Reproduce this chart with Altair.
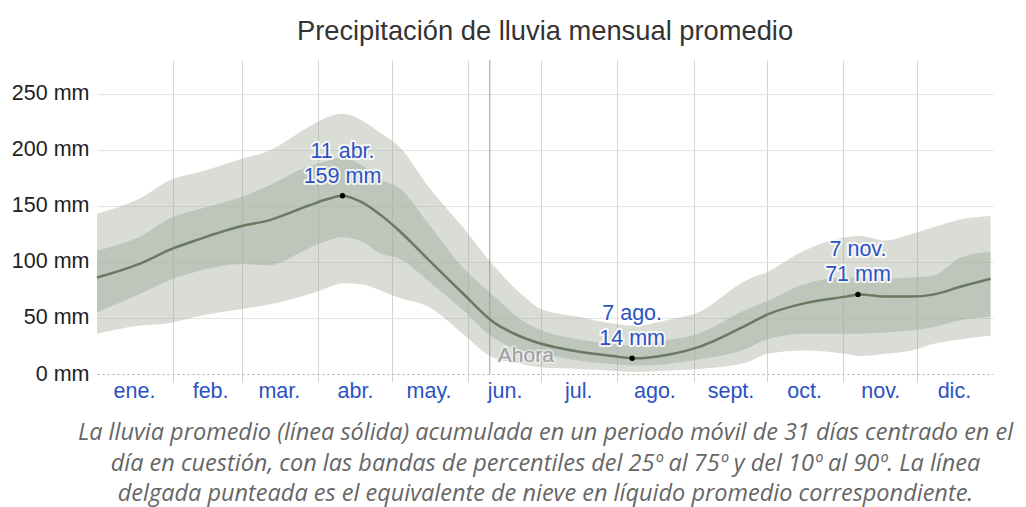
import altair as alt
import pandas as pd

# ---- data ----
days = [0, 17, 31, 40, 59, 70, 86, 94, 100, 108, 116, 123, 135, 149, 161, 173,
        181, 196, 210, 219, 232, 245, 264, 273, 288, 305, 311, 321, 332, 341, 352, 364]
mean_mm = [86, 98, 112, 119, 132, 137, 150, 156, 159, 153, 141, 128, 102, 72, 47, 33,
           27, 20, 16, 14, 17, 24, 43, 53, 63, 69, 71, 69, 69, 71, 78, 85]
p90 = [143, 156, 174, 179, 192, 199, 220, 229, 232, 226, 214, 203, 167, 131, 98, 71,
       58, 51, 45, 43, 48, 55, 83, 91, 110, 122, 123, 119, 125, 131, 138, 141]
p75 = [110, 122, 140, 146, 158, 168, 185, 190, 193, 186, 173, 166, 134, 95, 71, 48,
       39, 31, 27, 25, 30, 36, 57, 65, 80, 86, 86, 85, 86, 88, 104, 109]
p25 = [55, 71, 85, 91, 98, 97, 112, 119, 122, 118, 107, 103, 83, 57, 33, 21,
       18, 12, 9, 7.5, 9, 13, 22, 31, 36, 36, 36, 37, 39, 42, 48, 51]
p10 = [36, 43, 46, 51, 58, 62, 71, 77, 81, 80, 74, 68, 60, 36, 15, 9,
       6, 4.5, 3, 2, 3, 4.5, 10, 18, 21, 18, 16, 18, 21, 27, 31, 34]

months = ["ene.", "feb.", "mar.", "abr.", "may.", "jun.", "jul.", "ago.",
          "sept.", "oct.", "nov.", "dic."]
month_start = [0, 31, 59, 90, 120, 151, 181, 212, 243, 273, 304, 334]
y_ticks = [0, 50, 100, 150, 200, 250]

ann_day = [100, 218, 310]
ann_mm = [159, 14, 71]
ann_text = ["11 abr.\n159 mm", "7 ago.\n14 mm", "7 nov.\n71 mm"]

ahora_day = [160]
ahora_mm = [16]
ahora_text = ["Ahora"]

title_text = "Precipitación de lluvia mensual promedio"
caption = [
    "La lluvia promedio (línea sólida) acumulada en un periodo móvil de 31 días centrado en el",
    "día en cuestión, con las bandas de percentiles del 25º al 75º y del 10º al 90º. La línea",
    "delgada punteada es el equivalente de nieve en líquido promedio correspondiente.",
]

df = pd.DataFrame({"day": days, "mean": mean_mm, "p10": p10, "p25": p25,
                   "p75": p75, "p90": p90})
ann = pd.DataFrame({"day": ann_day, "mm": ann_mm, "label": ann_text})
now = pd.DataFrame({"day": ahora_day, "mm": ahora_mm, "label": ahora_text})

# ---- styling ----
FONT = "Liberation Sans"
BLUE = "#2b52c4"
BAND = "#a0aa98"

label_expr = "{}[indexof({}, datum.value)]".format(
    "[" + ",".join("'%s'" % m for m in months) + "]",
    "[" + ",".join(str(v) for v in month_start) + "]",
)

hide_first = {"condition": {"test": "datum.value === 0", "value": 0}, "value": 1}

xaxis = alt.Axis(
    values=month_start, labelExpr=label_expr, grid=True, gridColor="#d4d4d4",
    gridOpacity=hide_first, ticks=True, tickSize=8, tickColor="#d4d4d4",
    tickOpacity=hide_first, domain=False, labelOffset=37, labelAlign="center",
    labelFont=FONT, labelFontSize=21.5, labelColor=BLUE, labelPadding=-2,
    labelOverlap=False, labelBound=False, labelFlush=False,
    title=caption, titleFont="Open Sans", titleFontStyle="italic",
    titleFontWeight="normal", titleFontSize=23.5, titleColor="#666666",
    titleLineHeight=30.5, titlePadding=19,
)
yaxis = alt.Axis(
    values=y_ticks, labelExpr="datum.value + ' mm'", grid=True,
    gridColor={"condition": {"test": "datum.value === 0", "value": "#aaaaaa"},
               "value": "#e4e4e4"},
    gridDash={"condition": {"test": "datum.value === 0", "value": [2, 3]},
              "value": []},
    ticks=False, domain=False, labelFont=FONT, labelFontSize=21.5,
    labelColor="#222222", labelPadding=8, title=None,
)

xscale = alt.Scale(domain=[0, 365], nice=False, zero=False)
yscale = alt.Scale(domain=[0, 280], nice=False)

X = alt.X("day:Q", scale=xscale, axis=xaxis)


def Y(field):
    return alt.Y(field + ":Q", scale=yscale, axis=yaxis)


band90 = alt.Chart(df).mark_area(color=BAND, opacity=0.4, interpolate="monotone").encode(
    x=X, y=Y("p10"), y2="p90:Q")
band50 = alt.Chart(df).mark_area(color=BAND, opacity=0.46, interpolate="monotone").encode(
    x=X, y=Y("p25"), y2="p75:Q")
rule = alt.Chart(now).mark_rule(color="#9a9a9a", strokeWidth=1).encode(x=X)
line = alt.Chart(df).mark_line(color="#6a7a62", strokeWidth=2.5, interpolate="monotone").encode(
    x=X, y=Y("mean"))
now_halo = alt.Chart(now).mark_text(
    font=FONT, fontSize=21, align="left", baseline="middle", dx=8,
    stroke="white", strokeWidth=3, strokeOpacity=0.5, color="#a0a0a0").encode(
    x=X, y=Y("mm"), text="label:N")
now_text = alt.Chart(now).mark_text(
    font=FONT, fontSize=21, align="left", baseline="middle", dx=8,
    color="#a0a0a0").encode(x=X, y=Y("mm"), text="label:N")
ann_halo = alt.Chart(ann).mark_text(
    font=FONT, fontSize=21.5, lineBreak="\n", lineHeight=25, align="center",
    baseline="bottom", dy=-33, stroke="white", strokeWidth=4, strokeJoin="round",
    strokeOpacity=0.8, color="white").encode(x=X, y=Y("mm"), text="label:N")
ann_text_l = alt.Chart(ann).mark_text(
    font=FONT, fontSize=21.5, lineBreak="\n", lineHeight=25, align="center",
    baseline="bottom", dy=-33, color=BLUE).encode(x=X, y=Y("mm"), text="label:N")
dots = alt.Chart(ann).mark_point(filled=True, color="black", size=30, opacity=1).encode(
    x=X, y=Y("mm"))

chart = alt.layer(band90, band50, rule, line, now_halo, now_text, ann_halo,
                  ann_text_l, dots).properties(
    width=896, height=314,
    title=alt.TitleParams(text=title_text, font=FONT, fontSize=27.3,
                          fontWeight="normal", color="#333333", offset=14,
                          anchor="middle"),
    autosize=alt.AutoSizeParams(type="none"),
    padding={"left": 89, "top": 52, "right": 25, "bottom": 133},
).configure_view(stroke=None)

chart.save("out.html", embed_options={"renderer": "svg", "actions": False})
